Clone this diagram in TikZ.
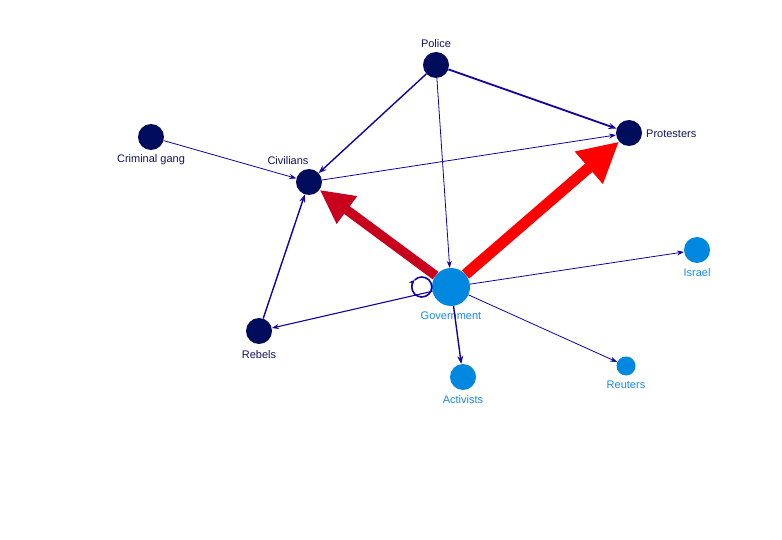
\documentclass[tikz,border=0pt]{standalone}
\usepackage{fontspec}
\setmainfont{Liberation Sans}
\usetikzlibrary{arrows.meta}
\definecolor{navy}{RGB}{0,12,92}
\definecolor{navytext}{RGB}{16,20,96}
\definecolor{lblue}{RGB}{0,136,224}
\definecolor{lbluetext}{RGB}{20,140,228}
\definecolor{edgeblue}{RGB}{20,0,160}
\definecolor{crimson}{RGB}{200,0,30}
\definecolor{bigred}{RGB}{255,0,0}
\tikzset{
  darknode/.style={circle,fill=navy,draw=none,minimum size=26pt,inner sep=0pt},
  lightnode/.style={circle,fill=lblue,draw=none,minimum size=26pt,inner sep=0pt},
  darklabel/.style={text=navytext,font=\fontsize{11}{13}\selectfont,inner sep=0pt},
  lightlabel/.style={text=lbluetext,font=\fontsize{11}{13}\selectfont,inner sep=0pt},
  edge/.style={draw=edgeblue,line width=0.8pt,-{Stealth[length=7pt,width=5pt]}},
  medge/.style={draw=edgeblue,line width=1.4pt,-{Stealth[length=8pt,width=6pt]}},
}
\begin{document}
\begin{tikzpicture}[x=1pt,y=-1pt]
\useasboundingbox[fill=white] (0,0) rectangle (782,540);
% nodes
\node[darknode] (police) at (436,65) {};
\node[darknode] (prot) at (629,133) {};
\node[darknode] (gang) at (151,137) {};
\node[darknode] (civ) at (309,182) {};
\node[lightnode,minimum size=38pt] (gov) at (451,287) {};
\node[lightnode] (isr) at (697,250) {};
\node[darknode] (reb) at (259,331) {};
\node[lightnode] (act) at (463,377) {};
\node[lightnode,minimum size=19pt] (reu) at (626,366) {};
% labels
\node[darklabel] (lpolice) at (436,44) {Police};
\node[darklabel,anchor=west] (lprot) at (646,134) {Protesters};
\node[darklabel] (lgang) at (151,160) {Criminal gang};
\node[darklabel] (lciv) at (288,161) {Civilians};
\node[lightlabel] (lgov) at (451,316) {Government};
\node[lightlabel] (lisr) at (697,273) {Israel};
\node[darklabel] (lreb) at (259,355) {Rebels};
\node[lightlabel] (lact) at (463,400) {Activists};
\node[lightlabel] (lreu) at (626,385) {Reuters};
% edges
\draw[medge] (police) -- (civ);
\draw[medge,line width=1.8pt] (police) -- (prot);
\draw[edge] (police) -- (gov);
\draw[edge] (gang) -- (civ);
\draw[edge] (civ) -- (prot);
\draw[medge] (reb) -- (civ);
\draw[edge] (gov) -- (isr);
\draw[edge,line width=1.1pt] (gov) -- (reb);
\draw[medge] (gov) -- (act);
\draw[edge] (gov) -- (reu);
\draw[draw=crimson,line width=9.5pt,-{Triangle[length=34pt,width=32pt]}] (gov) -- (civ);
\draw[draw=bigred,line width=11pt,-{Triangle[length=40pt,width=40pt]}] (gov) -- (prot);
% self loop
\draw[edge,line width=1.6pt,-{Stealth[length=6pt,width=5pt]}] (gov.west) arc[start angle=0,end angle=225,radius=10];
\draw[draw=edgeblue,line width=1.6pt] (gov.west) arc[start angle=0,end angle=-135,radius=10];
\end{tikzpicture}
\end{document}
